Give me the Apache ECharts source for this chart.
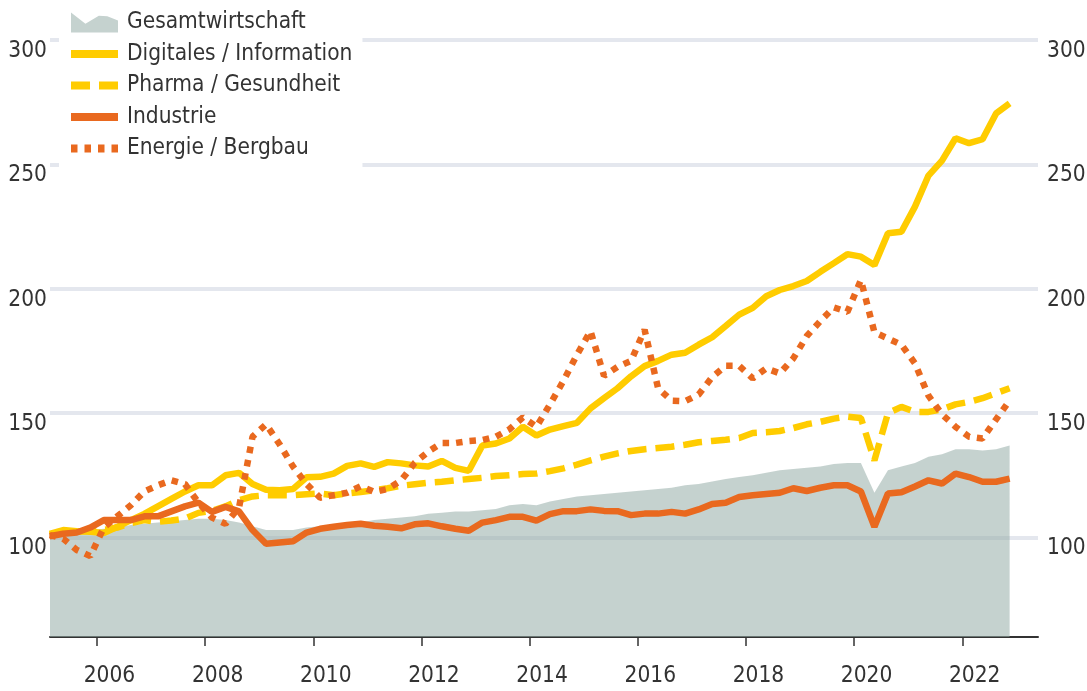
<!DOCTYPE html>
<html>
<head>
<meta charset="utf-8">
<script src="https://cdn.jsdelivr.net/npm/echarts@6/dist/echarts.min.js"></script>
<style>
html, body { margin: 0; background: #fff; }
#chart { width: 1087px; height: 691px; }
</style>
</head>
<body>
<div id="chart"></div>
<script>
// quarterly index, 2005 = 100
var quarters = [];
for (var y = 2005; y <= 2022; y++) {
    for (var q = 1; q <= 4; q++) quarters.push(y + 'Q' + q);
}

var gesamt = [101, 102, 102.5, 103, 103.5, 104, 105, 105.5, 106, 106.5,
    107, 107.5, 107.5, 107, 106, 104.5, 103, 103, 103, 104,
    104.5, 105, 105.5, 106, 107, 107.5, 108, 108.5, 109.5, 110,
    110.5, 110.5, 111, 111.5, 113, 113.5, 113, 114.5, 115.5, 116.5,
    117, 117.5, 118, 118.5, 119, 119.5, 120, 121, 121.5, 122.5,
    123.5, 124.3, 125, 126, 127, 127.5, 128, 128.5, 129.5, 130,
    130, 118, 127, 128.5, 130, 132.5, 133.5, 135.5, 135.5, 135,
    135.5, 137];

var digitales = [101.5, 103, 102.5, 102.3, 101.8, 104.3, 107, 109.5, 112.5, 115.5,
    118.5, 121, 121, 125, 126, 121.5, 119.2, 119, 119.5, 124.2,
    124.4, 125.7, 128.8, 129.8, 128.4, 130.3, 129.8, 129, 128.5, 130.8,
    128, 126.8, 137, 137.8, 139.8, 144.5, 141, 143.4, 144.8, 146.1,
    151.9, 156, 160, 164.8, 168.9, 171, 173.5, 174.3, 177.5, 180.5,
    185, 189.6, 192.3, 197, 199.5, 201.1, 203.1, 206.8, 210.3, 213.9,
    212.9, 209.5, 222.3, 222.9, 233, 245.5, 251.5, 260.5, 258.5, 260.1,
    270.5, 274.5];

var pharma = [100.9, 102, 102.3, 102.9, 103, 104, 105.8, 107, 106.3, 106.8,
    107.6, 109.9, 110.7, 112.5, 115, 116.5, 117, 117, 117, 117.4,
    117.7, 117, 117.7, 118.3, 119, 119.8, 120.8, 121.4, 122, 122.4,
    123, 123.5, 124, 124.7, 125, 125.5, 125.7, 126.7, 127.8, 129.3,
    131, 132.5, 133.8, 134.8, 135.5, 136, 136.5, 137.3, 138.3, 138.8,
    139.3, 140, 142, 142.3, 142.8, 144, 145.5, 146.5, 147.8, 148.6,
    148, 131, 150, 152.5, 150.5, 150.5, 151.5, 153.5, 154.5, 156,
    158, 160];

var industrie = [100.5, 101.5, 102, 104, 107, 107, 107, 108.5, 108.5, 110.5,
    112.5, 114, 110.3, 112.3, 110.5, 103, 97.5, 98, 98.5, 102,
    103.5, 104.3, 105, 105.5, 104.7, 104.3, 103.7, 105.3, 105.7, 104.5,
    103.5, 102.7, 106, 107, 108.3, 108.3, 106.8, 109.4, 110.6, 110.6,
    111.3, 110.7, 110.6, 109, 109.6, 109.6, 110.3, 109.6, 111.3, 113.5,
    114, 116.3, 117, 117.5, 118, 119.8, 118.7, 120, 121, 121,
    118.5, 104.3, 117.7, 118.2, 120.5, 123, 121.7, 125.7, 124.3, 122.4,
    122.4, 123.7];

var energie = [101, 99.5, 95, 92.5, 104, 108.5, 113, 118.5, 121, 123,
    121.5, 114, 108, 105.5, 112, 140.5, 145.5, 137.5, 128.5, 121.5,
    116, 117, 118, 120.6, 118.3, 119.5, 123, 130, 134.5, 138,
    138, 138.8, 139.2, 140.5, 143.5, 148.3, 144.5, 153.5, 163, 173.5,
    183, 165, 168.6, 171, 183.5, 160, 155, 154.8, 157.5, 164.5,
    169, 169, 164, 168, 166, 172, 181, 187, 192.5, 190.7,
    203.5, 182.5, 180, 177.5, 170, 157, 149.5, 144.5, 140.5, 139.8,
    147.5, 155];

var yTicks = [100, 150, 200, 250, 300];
var xTicks = [2006, 2008, 2010, 2012, 2014, 2016, 2018, 2020, 2022];

var FONT = "'DejaVu Sans Condensed', 'DejaVu Sans', sans-serif";
var FS = 22.5;
var TEXT = '#333333';
var YELLOW = '#ffcc00';
var ORANGE = '#e9691f';
var AREA = '#c5d2cf';

function qPos(s) {
    return +s.slice(0, 4) + (+s.slice(5) - 0.5) / 4;
}
function pairs(values) {
    return values.map(function (v, i) { return [qPos(quarters[i]), v]; });
}

function lineSeries(name, values, color, type) {
    return {
        name: name,
        type: 'line',
        data: pairs(values),
        symbol: 'none',
        color: color,
        lineStyle: { color: color, width: 6.5, type: type || 'solid' },
        emphasis: { disabled: true }
    };
}

var chart = echarts.init(document.getElementById('chart'));

chart.setOption({
    animation: false,
    grid: { left: 50, right: 49, top: 40, bottom: 54, outerBoundsMode: 'none' },
    legend: {
        orient: 'vertical',
        left: 59,
        top: 3,
        padding: [8, 10, 10, 8],
        backgroundColor: '#ffffff',
        itemWidth: 47,
        itemHeight: 20,
        itemGap: 8.5,
        selectedMode: false,
        symbolKeepAspect: false,
        lineStyle: { width: 8 },
        textStyle: { fontFamily: FONT, fontSize: FS, lineHeight: 20, color: TEXT, padding: [0, 0, 0, 4] },
        data: [
            { name: 'Gesamtwirtschaft', icon: 'path://M0,0L14.3,11.7L27.6,3.3L36,4L46.6,8.3L46.6,20.7L0,20.7Z', itemStyle: { color: AREA, borderWidth: 0 } },
            { name: 'Digitales / Information', itemStyle: { opacity: 0 } },
            { name: 'Pharma / Gesundheit', itemStyle: { opacity: 0 } },
            { name: 'Industrie', itemStyle: { opacity: 0 } },
            { name: 'Energie / Bergbau', itemStyle: { opacity: 0 } }
        ]
    },
    xAxis: {
        type: 'value',
        min: 2005.13,
        max: 2023.4,
        axisLine: { lineStyle: { color: TEXT, width: 2 } },
        axisTick: { customValues: xTicks, length: 9, lineStyle: { color: TEXT, width: 1.5 } },
        axisLabel: {
            customValues: xTicks.map(function (v) { return v + 0.23; }),
            formatter: function (v) { return String(Math.floor(v)); },
            margin: 28,
            fontFamily: FONT, fontSize: FS, color: TEXT
        },
        splitLine: { show: false }
    },
    yAxis: [0, 1].map(function (i) {
        return {
            type: 'value',
            min: 60,
            max: 300,
            position: i ? 'right' : 'left',
            axisLine: { show: false },
            axisTick: { show: false, customValues: yTicks },
            axisLabel: {
                customValues: yTicks,
                margin: i ? 9 : 3,
                verticalAlign: 'top',
                lineHeight: 22,
                fontFamily: FONT, fontSize: FS, color: TEXT
            },
            splitLine: { show: i === 0, lineStyle: { color: '#e4e7ee', width: 4 } }
        };
    }),
    series: [
        {
            name: 'Gesamtwirtschaft',
            type: 'line',
            data: pairs(gesamt),
            symbol: 'none',
            color: AREA,
            lineStyle: { width: 0 },
            areaStyle: { color: 'rgba(150,173,168,0.55)', opacity: 1, origin: 'start' },
            emphasis: { disabled: true }
        },
        lineSeries('Digitales / Information', digitales, YELLOW),
        lineSeries('Pharma / Gesundheit', pharma, YELLOW, [19, 9]),
        lineSeries('Industrie', industrie, ORANGE),
        lineSeries('Energie / Bergbau', energie, ORANGE, [6.5, 7])
    ]
});
</script>
</body>
</html>
